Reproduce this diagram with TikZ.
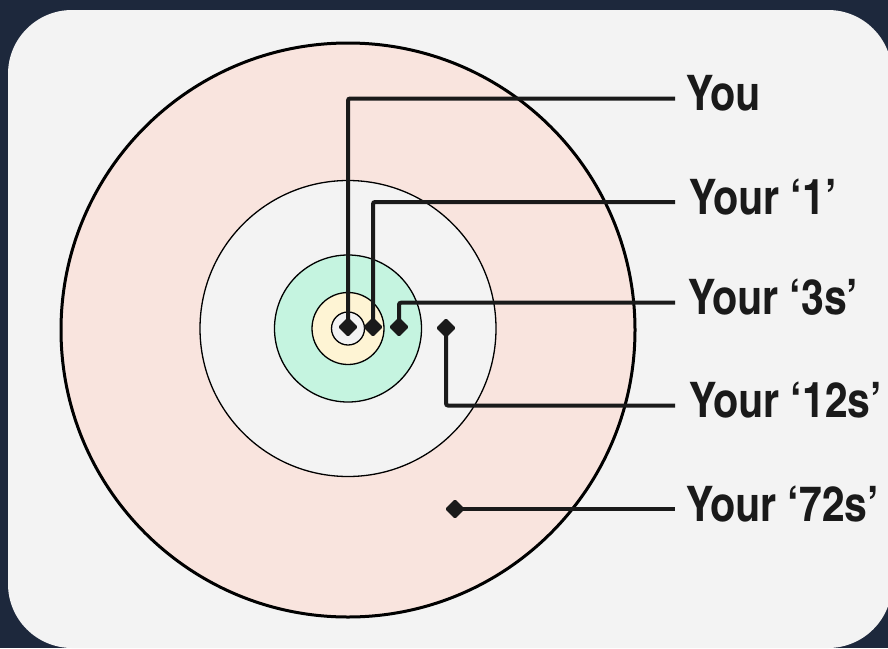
\documentclass[tikz,border=0pt]{standalone}
\usepackage{fontspec}
\newfontfamily\lblfont[FakeStretch=1.02]{texgyreheroscn-bold.otf}
\usetikzlibrary{shapes.geometric}
\definecolor{navy}{HTML}{1D283C}
\definecolor{panel}{HTML}{F3F3F3}
\definecolor{pinkfill}{HTML}{F9E4DE}
\definecolor{greenfill}{HTML}{C5F4E0}
\definecolor{yellowfill}{HTML}{FEF4D4}
\definecolor{ink}{HTML}{1A1A1A}
\tikzset{
  ring/.style={draw=black, line width=1.3pt},
  marker/.style={diamond, fill=ink, inner sep=0pt, minimum width=20pt, minimum height=20pt, rounded corners=1.5pt},
  lbl/.style={font=\lblfont\fontsize{49}{49}\selectfont, text=ink, inner sep=0pt, anchor=west, text height=36pt, text depth=12pt},
  leader/.style={draw=ink, line width=4pt, rounded corners=2pt}
}
\begin{document}
\begin{tikzpicture}[x=1pt,y=-1pt]
\useasboundingbox (0,0) rectangle (888,648);
\fill[navy] (0,0) rectangle (888,648);
\fill[panel, rounded corners=64pt] (8,10) rectangle (892,648);
% circles
\filldraw[fill=pinkfill, draw=black, line width=3pt] (348,330) circle (287);
\filldraw[fill=panel, ring] (348,328.5) circle (148);
\filldraw[fill=greenfill, ring] (348,328.5) circle (73.5);
\filldraw[fill=yellowfill, ring] (348,328.5) circle (36);
\filldraw[fill=panel, ring] (348,328.5) circle (16.5);
% markers
\node[marker] (d1) at (348,327) {};
\node[marker] (d2) at (373,327) {};
\node[marker] (d3) at (399,327) {};
\node[marker] (d4) at (446,328) {};
\node[marker] (d5) at (455,509) {};
% labels
\node[lbl] (t1) at (686,98.5) {You};
\node[lbl] (t2) at (689,202) {Your ‘1’};
\node[lbl] (t3) at (688,302.7) {Your ‘3s’};
\node[lbl] (t4) at (689,405.5) {Your ‘12s’};
\node[lbl] (t5) at (686,509) {Your ‘72s’};
% leaders
\draw[leader] (d1.center) |- ([xshift=-11pt]t1.west);
\draw[leader] (d2.center) |- ([xshift=-14pt]t2.west);
\draw[leader] (d3.center) |- ([xshift=-13pt]t3.west);
\draw[leader] (d4.center) |- ([xshift=-14pt]t4.west);
\draw[leader] (d5.center) -- ([xshift=-11pt]t5.west);
\end{tikzpicture}
\end{document}
